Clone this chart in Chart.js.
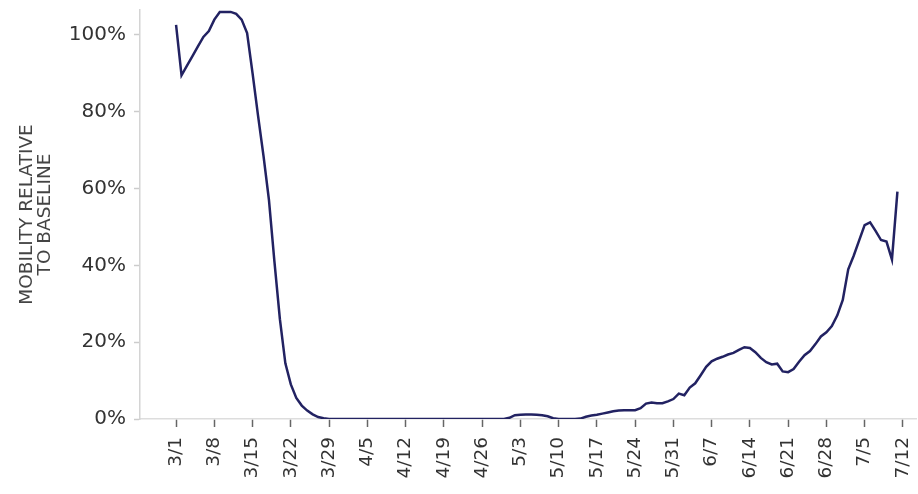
<!DOCTYPE html>
<html>
<head>
<meta charset="utf-8">
<script src="https://cdn.jsdelivr.net/npm/chart.js@4.4.0/dist/chart.umd.min.js"></script>
<style>
  html, body { margin: 0; padding: 0; background: #ffffff; }
  #wrap { width: 918px; height: 494px; }
</style>
</head>
<body>
<div id="wrap"><canvas id="mobilityChart" width="918" height="494"></canvas></div>
<script>
// Daily mobility relative to baseline, 3/1 through 7/11 (one value per day, %)
const mobility = [
  102.6, 89.5, 92, 94.5, 97, 99.5, 101, 104, 106, 106,
  106, 105.5, 104, 100.5, 90, 79, 68.5, 57, 41, 26,
  14.5, 9, 5.5, 3.5, 2.2, 1.2, 0.5, 0.2, 0, 0,
  0, 0, 0, 0, 0, 0, 0, 0, 0, 0,
  0, 0, 0, 0, 0, 0, 0, 0, 0, 0,
  0, 0, 0, 0, 0, 0, 0, 0, 0, 0,
  0, 0.3, 1.0, 1.1, 1.2, 1.2, 1.1, 1.0, 0.7, 0.2,
  0, 0, 0, 0, 0.1, 0.6, 0.9, 1.1, 1.4, 1.7,
  2.0, 2.2, 2.3, 2.3, 2.3, 2.8, 4.0, 4.3, 4.1, 4.1,
  4.6, 5.2, 6.6, 6.2, 8.2, 9.3, 11.4, 13.6, 15.0, 15.7,
  16.2, 16.8, 17.2, 18.0, 18.7, 18.5, 17.4, 15.9, 14.8, 14.2,
  14.4, 12.4, 12.2, 13.0, 14.9, 16.6, 17.7, 19.5, 21.5, 22.6,
  24.2, 27.0, 31.0, 39.0, 42.5, 46.5, 50.5, 51.2, 49.0, 46.6,
  46.2, 41.5, 59.2
];

// Weekly tick labels on the x axis (every 7th day from 3/1)
const weekLabels = [
  "3/1", "3/8", "3/15", "3/22", "3/29", "4/5", "4/12", "4/19", "4/26", "5/3",
  "5/10", "5/17", "5/24", "5/31", "6/7", "6/14", "6/21", "6/28", "7/5", "7/12"
];
const weekDays = [0, 7, 14, 21, 28, 35, 42, 49, 56, 63, 70, 77, 84, 91, 98, 105, 112, 119, 126, 133];

// Y axis tick values
const yTicks = [0, 20, 40, 60, 80, 100];

const fontFamily = "'DejaVu Sans', sans-serif";

// Drop the automatic label overhang padding so the plot area is fixed
function noPadding(scale) {
  scale.paddingLeft = 0;
  scale.paddingRight = 0;
  scale.paddingTop = 0;
  scale.paddingBottom = 0;
}

function initMobilityChart() {
  const ctx = document.getElementById("mobilityChart");

  const points = mobility.map((v, i) => ({ x: i, y: v }));

  new Chart(ctx, {
    type: "line",
    data: {
      datasets: [
        {
          label: "Mobility",
          data: points,
          borderColor: "#222262",
          borderWidth: 2.5,
          pointRadius: 0,
          tension: 0,
          fill: false,
        },
      ],
    },
    options: {
      responsive: false,
      animation: false,
      layout: {
        padding: { left: 0, top: 10, right: 2, bottom: 0 },
      },
      plugins: {
        legend: { display: false },
        tooltip: { enabled: false },
      },
      scales: {
        x: {
          type: "linear",
          min: -6.6,
          max: 135.4,
          afterBuildTicks: function (scale) {
            scale.ticks = weekDays.map((d) => ({ value: d }));
          },
          afterFit: function (scale) {
            scale.height = 75;
            noPadding(scale);
          },
          grid: {
            drawOnChartArea: false,
            drawTicks: true,
            tickLength: 8,
            tickColor: "#666666",
            tickWidth: 1.5,
          },
          border: {
            display: true,
            color: "#dddddd",
            width: 1.5,
          },
          ticks: {
            autoSkip: false,
            minRotation: 90,
            maxRotation: 90,
            padding: 10,
            color: "#333333",
            font: { size: 18.5, family: fontFamily },
            callback: function (value, index) {
              return weekLabels[index];
            },
          },
        },
        y: {
          min: 0,
          max: 106.5,
          afterBuildTicks: function (scale) {
            scale.ticks = yTicks.map((v) => ({ value: v }));
          },
          afterFit: function (scale) {
            scale.width = 140;
            noPadding(scale);
          },
          grid: {
            drawOnChartArea: false,
            drawTicks: true,
            tickLength: 6,
            tickColor: "#cccccc",
            tickWidth: 1.5,
          },
          border: {
            display: true,
            color: "#d4d4d4",
            width: 1.5,
          },
          ticks: {
            padding: 8,
            color: "#333333",
            font: { size: 20, family: fontFamily },
            callback: function (value) {
              return value + "%";
            },
          },
          title: {
            display: true,
            text: ["MOBILITY RELATIVE", "TO BASELINE"],
            color: "#444444",
            padding: { top: 18.5, bottom: 0 },
            font: { size: 18.5, family: fontFamily, lineHeight: 18 / 18.5 },
          },
        },
      },
    },
  });
}

document.addEventListener("DOMContentLoaded", initMobilityChart);
</script>
</body>
</html>
